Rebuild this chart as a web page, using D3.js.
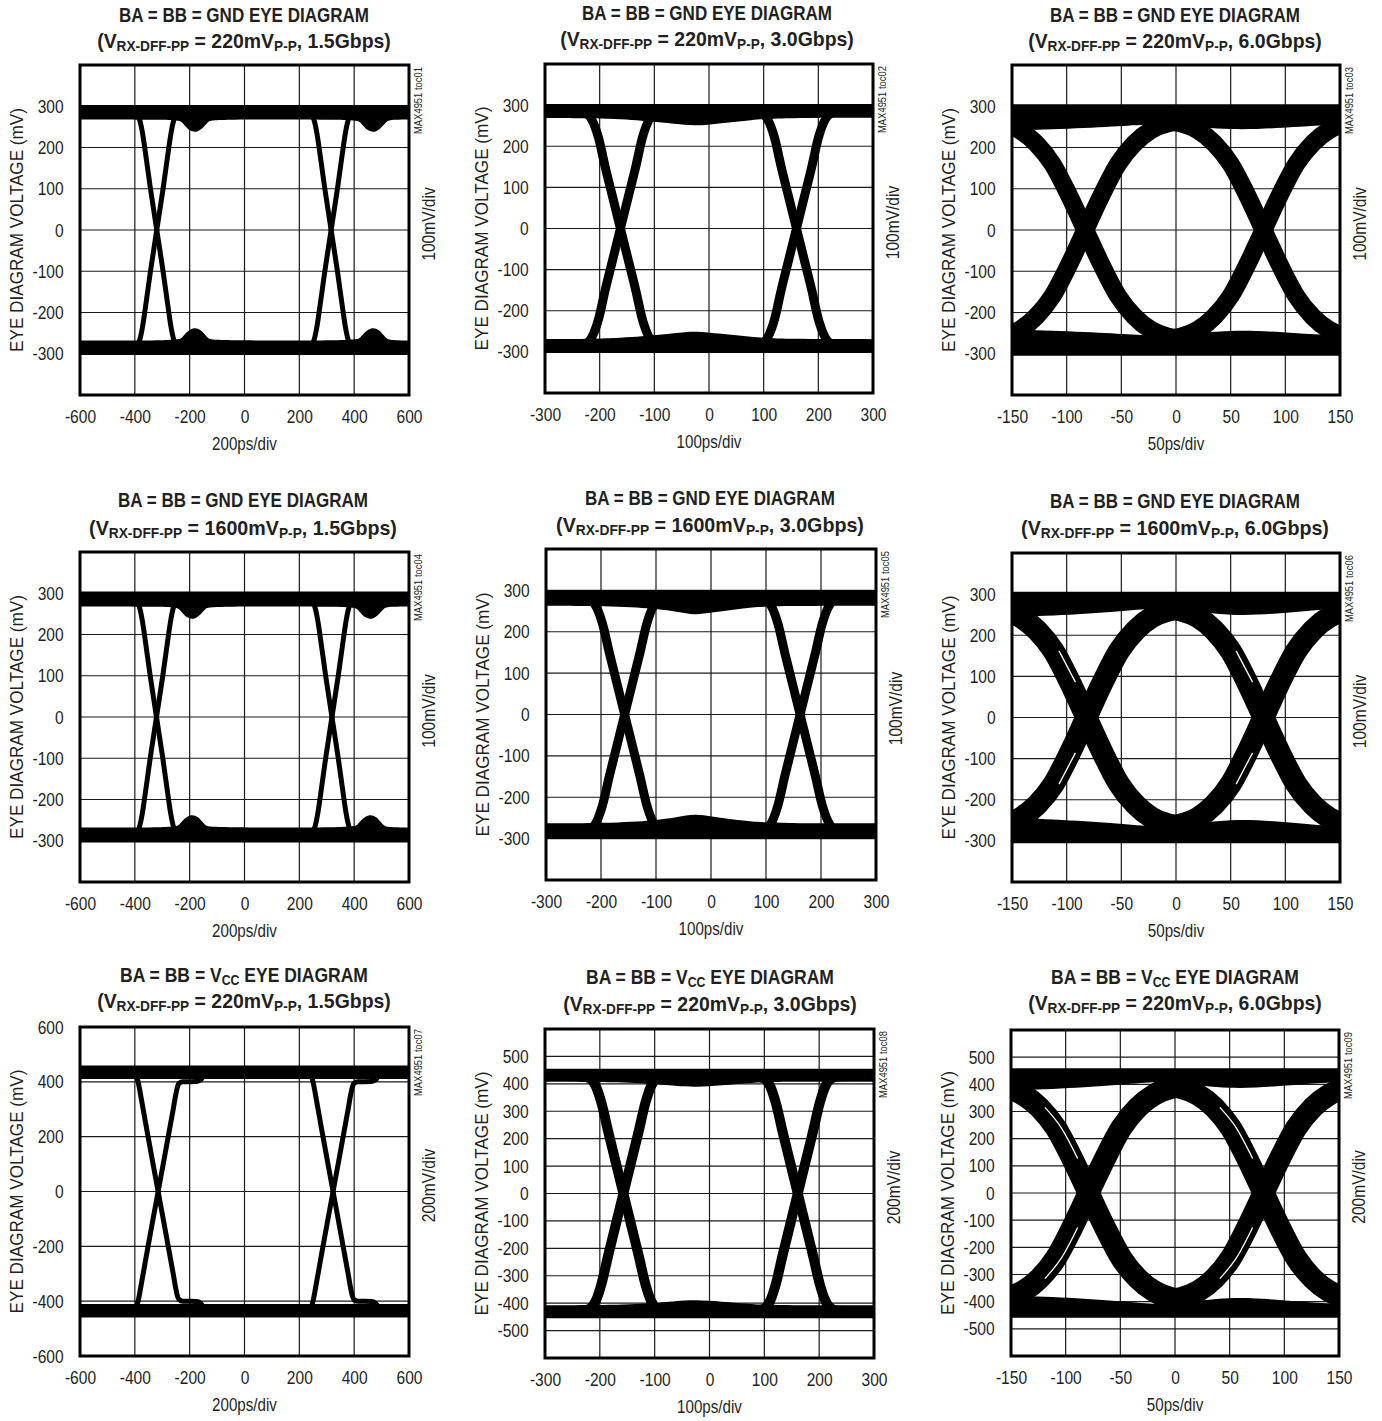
<!DOCTYPE html>
<html><head><meta charset="utf-8">
<script src="https://cdn.jsdelivr.net/npm/d3@7"></script>
<style>
body{margin:0;background:#fff;}
svg text{font-family:"Liberation Sans Narrow","Arial Narrow","Liberation Sans",Arial,sans-serif;fill:#231f20;}
</style></head><body>
<svg id="c" width="1382" height="1421"></svg>
<script>
// ---------------- axis ticks ----------------
const xTicks15 = [-600,-400,-200,0,200,400,600];
const xTicks30 = [-300,-200,-100,0,100,200,300];
const xTicks60 = [-150,-100,-50,0,50,100,150];
const yTicks300 = [-300,-200,-100,0,100,200,300];
const yTicks600 = [-600,-400,-200,0,200,400,600];
const yTicks500 = [-500,-400,-300,-200,-100,0,100,200,300,400,500];
const yGrid400 = [-300,-200,-100,0,100,200,300];
const yGrid600a = [-400,-200,0,200,400];
const yGrid600b = [-500,-400,-300,-200,-100,0,100,200,300,400,500];

// ---------------- labels ----------------
const supply = ["GND","GND","GND","GND","GND","GND","VCC","VCC","VCC"];
const swing  = ["220","220","220","1600","1600","1600","220","220","220"];
const rate   = ["1.5","3.0","6.0","1.5","3.0","6.0","1.5","3.0","6.0"];
const tocId  = ["toc01","toc02","toc03","toc04","toc05","toc06","toc07","toc08","toc09"];
const xDivLabel = ["200ps/div","100ps/div","50ps/div","200ps/div","100ps/div","50ps/div","200ps/div","100ps/div","50ps/div"];
const yDivLabel = ["100mV/div","100mV/div","100mV/div","100mV/div","100mV/div","100mV/div","200mV/div","200mV/div","200mV/div"];
const yTitle = "EYE DIAGRAM VOLTAGE (mV)";

// ---------------- eye data (ps, mV) ----------------
// crossing times of the two eye crossings in each panel
const crossings = [[-320,316],[-162,160],[-83,80],[-321,319],[-157,162],[-82,80],[-315,323],[-157,161],[-79,81]];

// falling edge around a crossing: [dt (ps), level (mV)]; rising edge is its mirror
const fallEdge1 = [[-200,286],[-90,285],[-72,280],[-62,266],[-52,235],[-44,200],[-23,100],[0,0],[23,-100],[44,-200],[52,-235],[62,-266],[72,-280],[90,-285],[200,-286]];
const fallEdge2 = [[-150,285],[-75,284],[-60,277],[-50,258],[-40,220],[-28,150],[-14,75],[0,0],[14,-75],[28,-150],[40,-220],[50,-258],[60,-277],[75,-284],[150,-285]];
const fallEdge3 = [[-100,262],[-83,262],[-75,258],[-60,242],[-45,210],[-30,160],[-15,85],[0,0],[15,-85],[30,-160],[45,-210],[60,-242],[75,-258],[83,-262],[100,-262]];
const fallEdge4 = [[-200,286],[-90,285],[-72,280],[-62,266],[-52,235],[-44,200],[-23,100],[0,0],[23,-100],[44,-200],[52,-235],[62,-266],[72,-280],[90,-285],[200,-286]];
const fallEdge5 = [[-150,283],[-75,282],[-60,275],[-50,256],[-40,218],[-28,150],[-14,75],[0,0],[14,-75],[28,-150],[40,-218],[50,-256],[60,-275],[75,-282],[150,-283]];
const fallEdge6 = [[-100,264],[-83,264],[-75,260],[-60,244],[-45,212],[-30,162],[-15,86],[0,0],[15,-86],[30,-162],[45,-212],[60,-244],[75,-260],[83,-264],[100,-264]];
const fallEdge7 = [[-200,433],[-84,431],[-79,421],[-72,395],[-60,330],[-40,218],[-20,108],[0,0],[20,-108],[40,-218],[55,-300],[64,-352],[70,-380],[76,-394],[90,-400],[140,-401],[155,-407],[168,-425],[185,-433],[300,-434]];
const fallEdge8 = [[-150,430],[-75,428],[-60,418],[-50,390],[-40,330],[-28,228],[-14,114],[0,0],[14,-114],[28,-228],[40,-330],[50,-390],[60,-418],[75,-428],[150,-430]];
const fallEdge9 = [[-100,392],[-83,392],[-75,386],[-60,362],[-45,315],[-30,240],[-15,127],[0,0],[15,-127],[30,-240],[45,-315],[60,-362],[75,-386],[83,-392],[100,-392]];

// high-level band: [t (ps), top (mV), bottom (mV)]; low band is its mirror
const hiBand1 = [[-650,303,268],[-245,303,268],[-228,303,262],[-210,303,246],[-190,303,238],[-170,303,238],[-150,303,248],[-132,303,264],[-115,303,268],[405,303,268],[422,303,262],[440,303,246],[460,303,238],[480,303,238],[500,303,248],[518,303,264],[535,303,268],[650,303,268]];
const hiBand2 = [[-350,303,269],[-200,303,269],[-120,303,262],[-60,303,254],[-25,303,249],[20,303,256],[80,303,264],[120,303,269],[350,303,269]];
const hiBand3 = [[-175,305,240],[-122,305,243],[-60,305,250],[-27,305,256],[0,305,256],[50,305,241],[100,305,248],[135,305,255],[175,305,257]];
const hiBand4 = [[-650,304,268],[-255,304,268],[-238,304,262],[-220,304,246],[-200,304,238],[-180,304,238],[-160,304,248],[-142,304,264],[-125,304,268],[395,304,268],[412,304,262],[430,304,246],[450,304,238],[470,304,238],[490,304,248],[508,304,264],[525,304,268],[650,304,268]];
const hiBand5 = [[-350,301,263],[-200,301,263],[-110,301,257],[-60,301,248],[-30,301,240],[0,301,246],[60,301,257],[110,301,263],[350,301,263]];
const hiBand6 = [[-175,306,244],[-120,306,246],[-60,306,256],[-20,306,266],[0,306,266],[50,306,245],[100,306,254],[140,306,265],[175,306,266]];
const hiBand7 = [[-650,460,410],[650,460,410]];
const hiBand8 = [[-350,455,408],[-200,455,408],[-110,455,402],[-60,455,392],[-25,455,388],[20,455,394],[80,455,404],[120,455,408],[350,455,408]];
const hiBand9 = [[-175,459,378],[-120,459,380],[-60,459,395],[-20,459,409],[0,459,409],[50,459,380],[100,459,395],[140,459,408],[175,459,409]];

// ---------------- layout / style (not data) ----------------
const layout = [
 {x0:80,x1:409,y0:65,y1:395, tx:244, t1:22, t2:48},
 {x0:545,x1:873,y0:64,y1:393, tx:707, t1:20, t2:46},
 {x0:1012,x1:1340,y0:65,y1:395, tx:1175, t1:22, t2:48},
 {x0:80,x1:409,y0:552,y1:882, tx:243, t1:507, t2:535},
 {x0:546,x1:876,y0:549,y1:880, tx:710, t1:505, t2:532},
 {x0:1012,x1:1340,y0:553,y1:882, tx:1175, t1:508, t2:535},
 {x0:80,x1:409,y0:1027,y1:1356, tx:244, t1:982, t2:1008},
 {x0:545,x1:874,y0:1029,y1:1358, tx:710, t1:984, t2:1011},
 {x0:1011,x1:1339,y0:1030,y1:1356, tx:1175, t1:984, t2:1010}
];
const edgeWidth = [5,9,18,5,9,22,5,10,22];
const whiteLine = [null,null,null,null,null,{from:-32,to:-2,shift:5},null,null,{from:-58,to:-2,shift:5}];
const NARROW = 0.82;

const panels = [
 {xTicks:xTicks15,yTicks:yTicks300,yGrid:yGrid400,yDom:[-400,400],edge:fallEdge1,band:hiBand1},
 {xTicks:xTicks30,yTicks:yTicks300,yGrid:yGrid400,yDom:[-400,400],edge:fallEdge2,band:hiBand2},
 {xTicks:xTicks60,yTicks:yTicks300,yGrid:yGrid400,yDom:[-400,400],edge:fallEdge3,band:hiBand3},
 {xTicks:xTicks15,yTicks:yTicks300,yGrid:yGrid400,yDom:[-400,400],edge:fallEdge4,band:hiBand4},
 {xTicks:xTicks30,yTicks:yTicks300,yGrid:yGrid400,yDom:[-400,400],edge:fallEdge5,band:hiBand5},
 {xTicks:xTicks60,yTicks:yTicks300,yGrid:yGrid400,yDom:[-400,400],edge:fallEdge6,band:hiBand6},
 {xTicks:xTicks15,yTicks:yTicks600,yGrid:yGrid600a,yDom:[-600,600],edge:fallEdge7,band:hiBand7},
 {xTicks:xTicks30,yTicks:yTicks500,yGrid:yGrid600b,yDom:[-600,600],edge:fallEdge8,band:hiBand8},
 {xTicks:xTicks60,yTicks:yTicks500,yGrid:yGrid600b,yDom:[-600,600],edge:fallEdge9,band:hiBand9}
];

const svg = d3.select("#c");
const defs = svg.append("defs");

function fit(sel, prefix, target){
  const w = sel.node().getComputedTextLength();
  const k = w > 0 ? target / w : 1;
  sel.attr("transform", `${prefix} scale(${k},1)`);
}

panels.forEach((p, i) => {
  const L = layout[i];
  const x = d3.scaleLinear().domain([p.xTicks[0], p.xTicks[p.xTicks.length-1]]).range([L.x0, L.x1]);
  const y = d3.scaleLinear().domain(p.yDom).range([L.y1, L.y0]);
  const g = svg.append("g");

  defs.append("clipPath").attr("id","clip"+i).append("rect")
    .attr("x",L.x0).attr("y",L.y0).attr("width",L.x1-L.x0).attr("height",L.y1-L.y0);

  // grid
  g.append("g").selectAll("line").data(p.xTicks.slice(1,-1)).join("line")
    .attr("x1",d=>x(d)).attr("x2",d=>x(d)).attr("y1",L.y0).attr("y2",L.y1)
    .attr("stroke","#1a1a1a").attr("stroke-width",1.2);
  g.append("g").selectAll("line").data(p.yGrid).join("line")
    .attr("y1",d=>y(d)).attr("y2",d=>y(d)).attr("x1",L.x0).attr("x2",L.x1)
    .attr("stroke","#1a1a1a").attr("stroke-width",1.2);

  // traces
  const tg = g.append("g").attr("clip-path",`url(#clip${i})`);
  const area = d3.area().x(d=>x(d[0])).y0(d=>y(d[1])).y1(d=>y(d[2])).curve(d3.curveBasis);
  tg.append("path").datum(p.band).attr("d",area).attr("fill","#000");
  tg.append("path").datum(p.band.map(d=>[d[0],-d[1],-d[2]])).attr("d",area).attr("fill","#000");
  const line = d3.line().x(d=>x(d[0])).y(d=>y(d[1])).curve(d3.curveMonotoneX);
  crossings[i].forEach(c => {
    const fall = p.edge.map(d=>[c+d[0], d[1]]);
    const rise = p.edge.map(d=>[c+d[0], -d[1]]);
    [fall, rise].forEach(pts => {
      tg.append("path").datum(pts).attr("d",line).attr("fill","none")
        .attr("stroke","#000").attr("stroke-width",edgeWidth[i]).attr("stroke-linejoin","round");
    });
  });
  const wl = whiteLine[i];
  if (wl) {
    crossings[i].forEach(c => {
      const seg = p.edge.filter(d=>d[0]>=wl.from-15 && d[0]<=wl.to+15);
      [1,-1].forEach(s => {
        const pts = seg.map(d=>[c+d[0]+wl.shift, s*d[1]]);
        const clipped = pts.filter(d=>d[0]-c-wl.shift>=wl.from && d[0]-c-wl.shift<=wl.to);
        tg.append("path").datum(clipped).attr("d",line).attr("fill","none")
          .attr("stroke","#fff").attr("stroke-width",1.3);
      });
    });
  }

  // frame
  g.append("rect").attr("x",L.x0).attr("y",L.y0).attr("width",L.x1-L.x0).attr("height",L.y1-L.y0)
    .attr("fill","none").attr("stroke","#000").attr("stroke-width",3);

  // axes
  const ax = g.append("g").attr("transform",`translate(0,${L.y1})`)
    .call(d3.axisBottom(x).tickValues(p.xTicks).tickSize(0).tickPadding(15).tickFormat(d=>String(d)));
  const ay = g.append("g").attr("transform",`translate(${L.x0},0)`)
    .call(d3.axisLeft(y).tickValues(p.yTicks).tickSize(0).tickPadding(20).tickFormat(d=>String(d)));
  [ax, ay].forEach(a => {
    a.select(".domain").remove();
    a.attr("font-family",null).attr("font-size",null);
    a.selectAll("text").attr("font-size","19px").attr("fill","#231f20")
      .attr("transform",`scale(${NARROW},1)`);
  });

  const cx = (L.x0+L.x1)/2, cy = (L.y0+L.y1)/2;
  g.append("text").attr("text-anchor","middle")
    .attr("transform",`translate(${cx},${L.y1+55}) scale(${NARROW},1)`)
    .attr("font-size","18.5px").text(xDivLabel[i]);
  const yt = g.append("text").attr("text-anchor","middle").attr("font-size","19px").text(yTitle);
  fit(yt, `translate(${L.x0-57},${cy}) rotate(-90)`, 244);
  g.append("text").attr("transform",`translate(${L.x1+26},${cy-6}) rotate(-90) scale(${NARROW},1)`).attr("text-anchor","middle")
    .attr("font-size","19px").text(yDivLabel[i]);
  g.append("text").attr("transform",`translate(${L.x1+13},${L.y0+2}) rotate(-90) scale(${NARROW},1)`).attr("text-anchor","end")
    .attr("font-size","11.5px").attr("fill","#444").text("MAX4951 " + tocId[i]);

  // titles
  const t1 = g.append("text").attr("text-anchor","middle").attr("font-weight","bold").attr("font-size","20px");
  if (supply[i] === "GND") {
    t1.append("tspan").text("BA = BB = GND EYE DIAGRAM");
  } else {
    t1.append("tspan").text("BA = BB = V");
    t1.append("tspan").attr("font-size","14px").attr("dy",3).text("CC");
    t1.append("tspan").attr("dy",-3).text(" EYE DIAGRAM");
  }
  fit(t1, `translate(${L.tx},${L.t1})`, supply[i]==="GND" ? 250 : 248);
  const t2 = g.append("text").attr("text-anchor","middle").attr("font-weight","bold").attr("font-size","20px");
  t2.append("tspan").text("(V");
  t2.append("tspan").attr("font-size","14px").attr("dy",3).text("RX-DFF-PP");
  t2.append("tspan").attr("dy",-3).text(" = " + swing[i] + "mV");
  t2.append("tspan").attr("font-size","14px").attr("dy",3).text("P-P");
  t2.append("tspan").attr("dy",-3).text(", " + rate[i] + "Gbps)");
  fit(t2, `translate(${L.tx},${L.t2})`, swing[i]==="1600" ? 308 : 294);
});
</script>
</body></html>
